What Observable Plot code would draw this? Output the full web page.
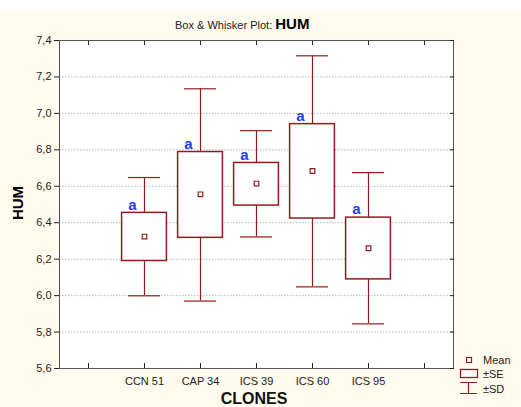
<!DOCTYPE html>
<html><head><meta charset="utf-8">
<script src="https://cdn.jsdelivr.net/npm/d3@7"></script>
<script src="https://cdn.jsdelivr.net/npm/@observablehq/plot@0.6"></script>
<style>
html,body{margin:0;padding:0;background:#fffbef;}
#chart{position:relative;width:521px;height:407px;}
#topband{position:absolute;left:0;top:0;width:521px;height:9px;background:#ffffff;}
#chart svg{position:absolute;left:0;top:0;}
</style></head><body><div id="chart"><div id="topband"></div></div>
<script>
// ---- data ----
const clones = ["CCN 51", "CAP 34", "ICS 39", "ICS 60", "ICS 95"];
const means  = [6.324, 6.556, 6.615, 6.684, 6.260];
const seLow  = [6.190, 6.317, 6.494, 6.423, 6.089];
const seHigh = [6.454, 6.788, 6.728, 6.941, 6.428];
const sdLow  = [5.999, 5.970, 6.322, 6.048, 5.845];
const sdHigh = [6.648, 7.135, 6.905, 7.316, 6.675];
const groupLetters = ["a", "a", "a", "a", "a"];
const yTicks = [5.6, 5.8, 6.0, 6.2, 6.4, 6.6, 6.8, 7.0, 7.2, 7.4];
const xSlots = ["_L", ...clones, "_R"];
const legendLabels = ["Mean", "±SE", "±SD"];
const titleSmall = "Box & Whisker Plot: ";
const titleBig = "HUM";
const yLabel = "HUM";
const xLabel = "CLONES";

const rows = clones.map((c, i) => ({
  clone: c, mean: means[i], seLow: seLow[i], seHigh: seHigh[i],
  sdLow: sdLow[i], sdHigh: sdHigh[i], letter: groupLetters[i]
}));

const RED = "#8f1d1d";
const BLUE = "#1e3cf0";
const FONT = "'Liberation Sans', Arial, sans-serif";
const fmtY = d => d.toFixed(1).replace(".", ",");
const fmtX = d => d.startsWith("_") ? "" : d;

const chart = Plot.plot({
  width: 521, height: 407,
  marginLeft: 59, marginRight: 68, marginTop: 40, marginBottom: 39,
  style: {background: "transparent", fontFamily: FONT, fontSize: "11px", color: "#222"},
  x: {type: "band", domain: xSlots, padding: 0},
  y: {domain: [5.6, 7.4]},
  marks: [
    Plot.frame({fill: "white", stroke: null}),
    Plot.ruleY(yTicks.slice(1, -1), {stroke: "#b5b5b5", strokeDasharray: "1.5,1.5"}),
    Plot.ruleX(rows, {x: "clone", y1: "sdLow", y2: "sdHigh", stroke: RED, strokeWidth: 1.2}),
    Plot.tickY(rows, {x: "clone", y: "sdLow", stroke: RED, strokeWidth: 1.2, inset: 12}),
    Plot.tickY(rows, {x: "clone", y: "sdHigh", stroke: RED, strokeWidth: 1.2, inset: 12}),
    Plot.barY(rows, {x: "clone", y1: "seLow", y2: "seHigh", fill: "white", stroke: RED, strokeWidth: 1.5, insetLeft: 5.6, insetRight: 5.6}),
    Plot.dot(rows, {x: "clone", y: "mean", symbol: "square", r: 2.6, stroke: RED, fill: "white", strokeWidth: 1.2}),
    Plot.text(rows, {x: "clone", y: "seHigh", text: "letter", dx: -12, dy: -8, fill: BLUE, fontWeight: "bold", fontSize: 15}),
    Plot.frame({stroke: "#555"}),
    Plot.axisY({ticks: yTicks, tickSize: 5, tickPadding: 3, tickFormat: fmtY, label: null, fontSize: 11}),
    Plot.axisY({anchor: "right", ticks: yTicks, tickSize: -4, tickFormat: () => "", label: null}),
    Plot.axisX({ticks: xSlots, tickSize: -5, tickPadding: 14, tickFormat: fmtX, label: null, fontSize: 11}),
    Plot.axisX({anchor: "top", ticks: xSlots, tickSize: -4, tickFormat: () => "", label: null})
  ]
});
document.getElementById("chart").appendChild(chart);

const svg = d3.select(chart);
// title
const t = svg.append("text").attr("x", 175).attr("y", 29).attr("fill", "#222")
  .attr("text-anchor", "start").style("font-family", FONT);
t.append("tspan").attr("font-size", 11).text(titleSmall);
t.append("tspan").attr("font-size", 15).attr("font-weight", "bold").attr("fill", "#000").text(titleBig);
// axis labels
svg.append("text").attr("transform", "translate(23,203) rotate(-90)").attr("text-anchor", "middle")
  .attr("font-size", 15).attr("font-weight", "bold").attr("fill", "#000")
  .style("font-family", FONT).text(yLabel);
svg.append("text").attr("x", 254).attr("y", 404).attr("text-anchor", "middle")
  .attr("font-size", 16).attr("font-weight", "bold").attr("fill", "#111")
  .style("font-family", FONT).text(xLabel);
// legend
const lg = svg.append("g").style("font-family", FONT).attr("font-size", 11).attr("fill", "#222").attr("text-anchor", "start");
lg.append("rect").attr("x", 466.5).attr("y", 357.5).attr("width", 5).attr("height", 5)
  .attr("fill", "white").attr("stroke", RED).attr("stroke-width", 1.2);
lg.append("rect").attr("x", 460.5).attr("y", 369.5).attr("width", 17).attr("height", 8)
  .attr("fill", "white").attr("stroke", RED).attr("stroke-width", 1.3);
lg.append("path").attr("d", "M460,382.5H477M460,393.5H477M468.5,382.5V393.5")
  .attr("fill", "none").attr("stroke", RED).attr("stroke-width", 1.2);
const ly = [364, 378, 393];
legendLabels.forEach((s, i) => lg.append("text").attr("x", 483).attr("y", ly[i]).attr("text-anchor", "start").text(s));
</script>
</body></html>
